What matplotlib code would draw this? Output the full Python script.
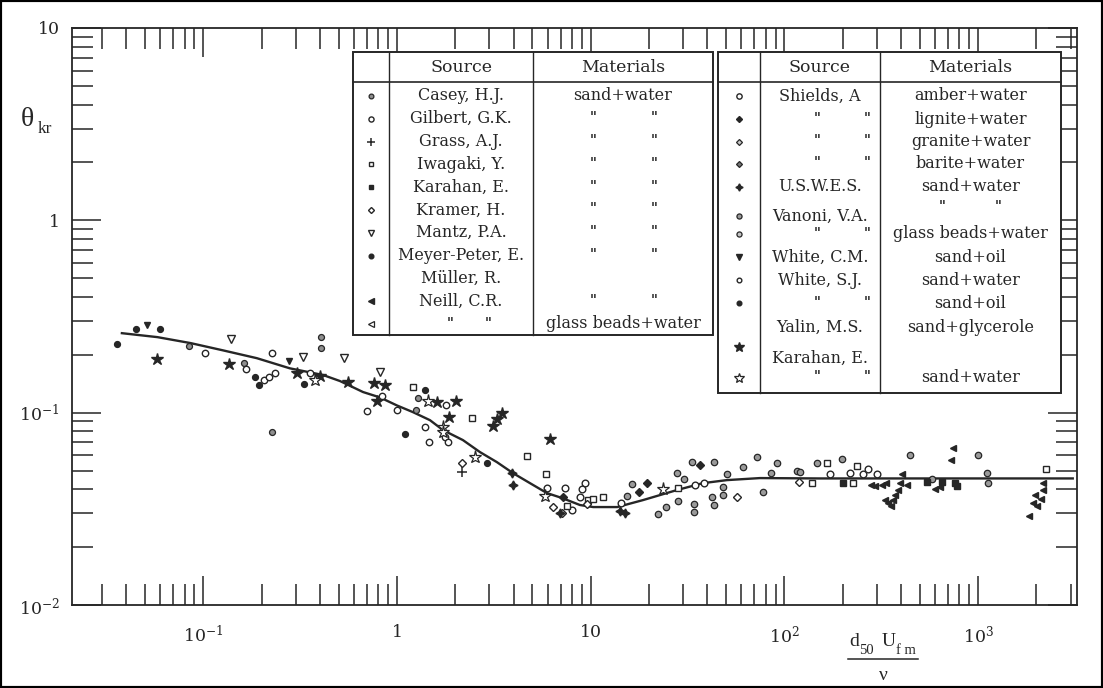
import numpy as np
import matplotlib
matplotlib.use("Agg")
import matplotlib.pyplot as plt
from matplotlib.patches import Rectangle
from matplotlib.lines import Line2D
from matplotlib.ticker import FixedLocator, FixedFormatter, LogLocator, NullFormatter

# ---- data ----
curve_x = [0.038, 0.058, 0.086, 0.126, 0.189, 0.28, 0.415, 0.508, 0.668, 0.817, 1.0, 1.21,
           1.48, 1.73, 2.19, 2.68, 3.28, 3.97, 4.86, 5.94, 7.11, 8.8, 10.3, 13.7, 18.6,
           27.9, 37.9, 50.5, 74.8, 152, 3080]
curve_y = [0.259, 0.247, 0.230, 0.211, 0.192, 0.170, 0.157, 0.146, 0.128, 0.120, 0.109, 0.1006,
           0.0914, 0.0811, 0.0720, 0.0624, 0.0553, 0.0485, 0.0430, 0.0382, 0.0360, 0.0331, 0.0323,
           0.0323, 0.0351, 0.0396, 0.0430, 0.0446, 0.0457, 0.0455, 0.0455]

casey_x = [0.084, 0.162, 0.405, 0.405, 0.226, 1.25, 1.28]
casey_y = [0.222, 0.181, 0.247, 0.216, 0.079, 0.103, 0.119]

meyer_x = [0.036, 0.045, 0.060, 0.185, 0.194, 0.331, 1.10, 1.40, 2.92]
meyer_y = [0.227, 0.272, 0.272, 0.153, 0.139, 0.141, 0.077, 0.131, 0.055]

gilbert_x = [0.102, 0.166, 0.206, 0.218, 0.235, 0.226, 0.356, 0.837, 0.70, 1.0, 1.79, 1.40,
             1.46, 1.77, 1.83]
gilbert_y = [0.204, 0.168, 0.1475, 0.153, 0.160, 0.204, 0.160, 0.122, 0.102, 0.103, 0.109,
             0.0841, 0.0703, 0.0746, 0.0703]

amber_x = [5.94, 7.36, 8.0, 9.34, 9.01, 8.8, 14.3, 34.5, 38.4, 172, 218, 254, 270, 300]
amber_y = [0.0406, 0.0406, 0.0312, 0.043, 0.0401, 0.0364, 0.0339, 0.042, 0.043, 0.048, 0.0485,
           0.048, 0.0508, 0.048]

vanoni_x = [15.4, 16.3, 27.9, 30.3, 33.3, 43.3, 50.5, 48.2, 42.3, 43.3, 48.2, 61.1, 72.1, 85.2,
            77.4, 91.5, 116, 147, 198, 120, 22.2, 24.5, 28.2, 34.1, 34.1, 445, 577, 997, 1109, 1122]
vanoni_y = [0.0368, 0.0425, 0.0485, 0.0451, 0.0553, 0.0553, 0.048, 0.041, 0.0364, 0.0331, 0.0373,
            0.0521, 0.0587, 0.0485, 0.0386, 0.0547, 0.0497, 0.0547, 0.0573, 0.0491, 0.0297, 0.0323,
            0.0347, 0.0335, 0.0304, 0.0601, 0.0451, 0.0601, 0.0485, 0.043]

iwagaki_x = [1.21, 2.44, 4.69, 5.87, 7.54, 9.68, 10.3, 11.6, 28.2, 139, 166, 237, 226, 2238]
iwagaki_y = [0.136, 0.0936, 0.0594, 0.048, 0.0327, 0.0351, 0.0355, 0.0364, 0.0406, 0.043, 0.0547,
             0.0527, 0.043, 0.0508]

karahan_sq_x = [200, 544, 650, 759, 777]
karahan_sq_y = [0.043, 0.0435, 0.0435, 0.043, 0.0415]

kramer_x = [2.16, 6.38, 7.11, 9.57, 56.9, 119]
kramer_y = [0.0547, 0.0323, 0.0301, 0.0335, 0.0364, 0.0435]

lignite_x = [7.19, 17.7, 19.5, 36.6]
lignite_y = [0.0364, 0.0386, 0.043, 0.0533]

mantz_x = [0.139, 0.327, 0.532, 0.817]
mantz_y = [0.241, 0.194, 0.192, 0.162]

white_cm_x = [0.0513, 0.277]
white_cm_y = [0.285, 0.185]

neill_x = [279, 293, 318, 334, 404, 394, 429, 385, 372, 363, 355, 330, 342, 598, 635, 741, 723,
           2158, 2158, 2109, 1963, 1919, 2010, 1828]
neill_y = [0.042, 0.0415, 0.042, 0.043, 0.048, 0.043, 0.042, 0.0396, 0.0373, 0.0351, 0.0327,
           0.0351, 0.0339, 0.0401, 0.041, 0.0654, 0.0566, 0.043, 0.0396, 0.0355, 0.0373, 0.0339,
           0.0327, 0.029]

grass_x = [2.16]
grass_y = [0.0491]

uswes_x = [3.92, 3.97, 6.94, 14.2, 15.0]
uswes_y = [0.0485, 0.042, 0.0301, 0.0308, 0.0301]

yalin_x = [0.0577, 0.136, 0.401, 0.305, 0.558, 0.76, 0.867, 0.789, 1.61, 2.02, 1.85, 3.48, 3.28,
           3.13, 6.16]
yalin_y = [0.190, 0.179, 0.155, 0.160, 0.144, 0.142, 0.139, 0.115, 0.1135, 0.115, 0.0948, 0.0994,
           0.0925, 0.0851, 0.0728]

karahan_st_x = [0.377, 1.45, 1.73, 1.73, 2.53, 5.81, 23.6]
karahan_st_y = [0.1475, 0.115, 0.0841, 0.0792, 0.0587, 0.0368, 0.0401]

x_ticks = [0.1, 1, 10, 100, 1000]
x_labels = ['$10^{-1}$', '1', '10', '$10^{2}$', '$10^{3}$']
y_ticks = [0.01, 0.1, 1, 10]
y_labels = ['$10^{-2}$', '$10^{-1}$', '1', '10']

DITTO = '"'
left_keys = ['casey', 'gilbert', 'grass', 'iwagaki', 'karahan_sq', 'kramer', 'mantz', 'meyer',
             None, 'neill', 'neill_gb']
left_sources = ['Casey, H.J.', 'Gilbert, G.K.', 'Grass, A.J.', 'Iwagaki, Y.', 'Karahan, E.',
                'Kramer, H.', 'Mantz, P.A.', 'Meyer-Peter, E.', 'Müller, R.', 'Neill, C.R.', DITTO]
left_materials = ['sand+water', DITTO, DITTO, DITTO, DITTO, DITTO, DITTO, DITTO, '', DITTO,
                  'glass beads+water']

right_keys = ['amber', 'lignite', 'granite', 'barite', 'uswes', None, 'vanoni', 'vanoni_gb',
              'white_cm', 'white_sj', 'white_sj_oil', None, 'yalin', None, 'karahan_st']
right_sources = ['Shields, A', DITTO, DITTO, DITTO, 'U.S.W.E.S.', '', 'Vanoni, V.A.', DITTO,
                 'White, C.M.', 'White, S.J.', DITTO, 'Yalin, M.S.', '', 'Karahan, E.', DITTO]
right_materials = ['amber+water', 'lignite+water', 'granite+water', 'barite+water', 'sand+water',
                   DITTO, '', 'glass beads+water', 'sand+oil', 'sand+water', 'sand+oil',
                   'sand+glycerole', '', '', 'sand+water']

# ---- styles ----
ink = '#262626'
mk = {
    'casey': dict(marker='o', ms=4.3, mfc='#8f8f8f', mec=ink, mew=0.9),
    'gilbert': dict(marker='o', ms=4.6, mfc='white', mec=ink, mew=1.0),
    'grass': dict(marker='+', ms=7, mec=ink, mew=1.1),
    'iwagaki': dict(marker='s', ms=4.3, mfc='white', mec=ink, mew=1.0),
    'karahan_sq': dict(marker='s', ms=3.8, mfc=ink, mec=ink),
    'kramer': dict(marker='D', ms=3.8, mfc='white', mec=ink, mew=1.0),
    'mantz': dict(marker='v', ms=5.2, mfc='white', mec=ink, mew=1.0),
    'meyer': dict(marker='o', ms=4.2, mfc=ink, mec=ink),
    'neill': dict(marker='<', ms=5, mfc=ink, mec=ink),
    'neill_gb': dict(marker='<', ms=5, mfc='white', mec=ink, mew=0.9),
    'amber': dict(marker='o', ms=4.8, mfc='white', mec=ink, mew=1.0),
    'lignite': dict(marker='D', ms=3.8, mfc=ink, mec=ink),
    'granite': dict(marker='D', ms=3.8, mfc='#c8c8c8', mec=ink, mew=0.9),
    'barite': dict(marker='D', ms=3.8, mfc='#777777', mec=ink, mew=0.9),
    'uswes': dict(marker=(4, 1, 0), ms=6.5, mfc=ink, mec=ink),
    'vanoni': dict(marker='o', ms=4.6, mfc='#9a9a9a', mec=ink, mew=0.9),
    'vanoni_gb': dict(marker='o', ms=4.6, mfc='#c4c4c4', mec=ink, mew=0.9),
    'white_cm': dict(marker='v', ms=4.6, mfc=ink, mec=ink),
    'white_sj': dict(marker='o', ms=4.2, mfc='white', mec=ink, mew=1.0),
    'white_sj_oil': dict(marker='o', ms=4.2, mfc=ink, mec=ink),
    'yalin': dict(marker='*', ms=9, mfc=ink, mec=ink),
    'karahan_st': dict(marker='*', ms=9.5, mfc='white', mec=ink, mew=0.9),
}

plt.rcParams['font.family'] = ['DejaVu Serif']
plt.rcParams['mathtext.fontset'] = 'custom'
plt.rcParams['mathtext.rm'] = 'DejaVu Serif'
plt.rcParams['mathtext.it'] = 'DejaVu Serif:italic'

W, H = 1103, 688
fig = plt.figure(figsize=(W / 100, H / 100), dpi=100)
fig.patch.set_facecolor('white')


def fx(px):
    return px / W


def fy(py):
    return 1 - py / H


ax = fig.add_axes([fx(72), fy(605), fx(1077) - fx(72), fy(28) - fy(605)])
ax.set_xscale('log')
ax.set_yscale('log')
ax.set_xlim(0.021, 3240)
ax.set_ylim(0.01, 10)

ax.plot(curve_x, curve_y, color=ink, lw=1.7, zorder=3)

series = [
    ('casey', casey_x, casey_y), ('meyer', meyer_x, meyer_y), ('gilbert', gilbert_x, gilbert_y),
    ('amber', amber_x, amber_y), ('vanoni', vanoni_x, vanoni_y), ('iwagaki', iwagaki_x, iwagaki_y),
    ('karahan_sq', karahan_sq_x, karahan_sq_y), ('kramer', kramer_x, kramer_y),
    ('lignite', lignite_x, lignite_y), ('mantz', mantz_x, mantz_y),
    ('white_cm', white_cm_x, white_cm_y), ('neill', neill_x, neill_y), ('grass', grass_x, grass_y),
    ('uswes', uswes_x, uswes_y), ('yalin', yalin_x, yalin_y),
    ('karahan_st', karahan_st_x, karahan_st_y),
]
for key, xs, ys in series:
    ax.plot(xs, ys, ls='none', zorder=4, **mk[key])

# axes frame and ticks
for sp in ax.spines.values():
    sp.set_color(ink)
    sp.set_linewidth(1.3)
ax.xaxis.set_major_locator(FixedLocator(x_ticks))
ax.xaxis.set_major_formatter(FixedFormatter(x_labels))
ax.yaxis.set_major_locator(FixedLocator(y_ticks))
ax.yaxis.set_major_formatter(FixedFormatter(y_labels))
ax.xaxis.set_minor_locator(LogLocator(base=10, subs=np.arange(2, 10), numticks=20))
ax.yaxis.set_minor_locator(LogLocator(base=10, subs=np.arange(2, 10), numticks=20))
ax.xaxis.set_minor_formatter(NullFormatter())
ax.yaxis.set_minor_formatter(NullFormatter())
ax.tick_params(which='both', direction='in', top=True, right=True, color=ink, width=1.1,
               labelsize=12.5, labelcolor=ink)
ax.tick_params(which='major', length=21)
ax.tick_params(which='minor', length=15)
ax.tick_params(axis='x', pad=14)
ax.tick_params(axis='y', pad=9)

# axis titles
fig.text(fx(21), fy(119), 'θ', family='Liberation Serif', fontsize=20, color=ink,
         ha='left', va='center')
fig.text(fx(38), fy(129), 'kr', family='Liberation Serif', fontsize=12.5, color=ink,
         ha='left', va='center')
fig.text(fx(849), fy(642), 'd', family='Liberation Serif', fontsize=14, color=ink,
         ha='left', va='center')
fig.text(fx(859), fy(651), '50', family='Liberation Serif', fontsize=10.5, color=ink,
         ha='left', va='center')
fig.text(fx(882), fy(642), 'U', family='Liberation Serif', fontsize=14, color=ink,
         ha='left', va='center')
fig.text(fx(896), fy(651), 'f m', family='Liberation Serif', fontsize=10.5, color=ink,
         ha='left', va='center')
fig.add_artist(Line2D([fx(848), fx(918)], [fy(659), fy(659)], color=ink, lw=1.1,
                      transform=fig.transFigure))
fig.text(fx(883), fy(675), 'ν', family='Liberation Serif', fontsize=14, color=ink,
         ha='center', va='center')


# ---- the two source tables ----
def hline(x0, x1, y, lw=1.2):
    fig.add_artist(Line2D([fx(x0), fx(x1)], [fy(y), fy(y)], color=ink, lw=lw,
                          transform=fig.transFigure, zorder=6))


def vline(x, y0, y1, lw=1.0):
    fig.add_artist(Line2D([fx(x), fx(x)], [fy(y0), fy(y1)], color=ink, lw=lw,
                          transform=fig.transFigure, zorder=6))


def put(x, y, s, size=11.5):
    fig.text(fx(x), fy(y), s, ha='center', va='center', fontsize=size, color=ink, zorder=7)


def ditto(xa, xb, y):
    for xx in (xa, xb):
        fig.text(fx(xx), fy(y - 1), '"', ha='center', va='center', fontsize=9.5,
                 fontweight='bold', color=ink, zorder=7)


def marker(x, y, key):
    style = dict(mk[key])
    style['ms'] = style['ms'] * 0.8
    fig.add_artist(Line2D([fx(x)], [fy(y)], ls='none', transform=fig.transFigure, zorder=8,
                          **style))


def table(x0, x1, y0, y1, xa, xb, rows_y, keys, sources, materials, src_ditto, mat_ditto):
    fig.add_artist(Rectangle((fx(x0), fy(y1)), fx(x1) - fx(x0), fy(y0) - fy(y1),
                             transform=fig.transFigure, fc='white', ec=ink, lw=1.4, zorder=5))
    hline(x0, x1, 82)
    vline(xa, y0, y1)
    vline(xb, y0, y1)
    put((xa + xb) / 2, 67, 'Source', 12.5)
    put((xb + x1) / 2, 67, 'Materials', 12.5)
    for y, k, s, m in zip(rows_y, keys, sources, materials):
        if k is not None:
            marker((x0 + xa) / 2, y, k)
        if s == DITTO:
            ditto(src_ditto[0], src_ditto[1], y)
        elif s:
            put((xa + xb) / 2, y, s)
        if m == DITTO:
            ditto(mat_ditto[0], mat_ditto[1], y)
        elif m:
            put((xb + x1) / 2, y, m)


left_rows_y = [96 + 22.8 * i for i in range(11)]
table(353, 713, 52, 335, 389, 533, left_rows_y, left_keys, left_sources, left_materials,
      (450, 488), (593, 654))

right_rows_y = [96, 119, 142, 164, 187, 207, 216, 234, 257, 280, 303, 327, 347, 358, 378]
table(718, 1061, 52, 393, 760, 880, right_rows_y, right_keys, right_sources, right_materials,
      (817, 867), (942, 998))

# scan frame
fig.add_artist(Rectangle((0, 0), 1, 1, transform=fig.transFigure, fill=False, ec='black',
                         lw=3, zorder=10))

fig.savefig('out.png', dpi=100)
